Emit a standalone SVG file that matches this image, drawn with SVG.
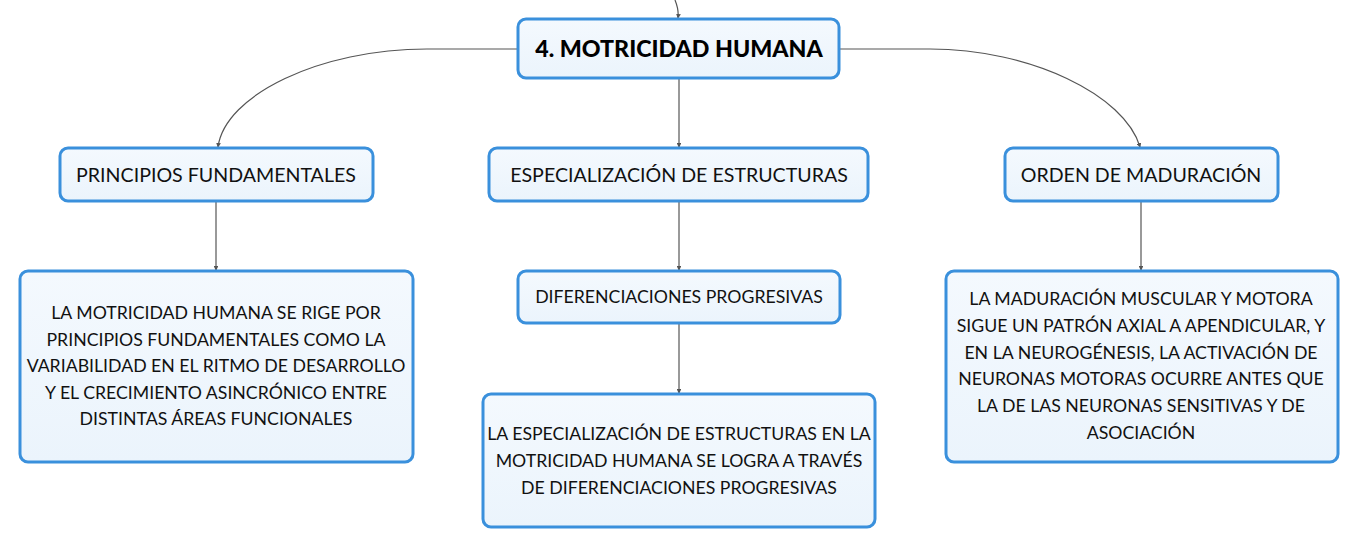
<svg xmlns="http://www.w3.org/2000/svg" width="1359" height="549" viewBox="0 0 1359 549">
<defs>
<linearGradient id="fillg" x1="0" y1="0" x2="0" y2="1">
<stop offset="0" stop-color="#f4f9fe"/>
<stop offset="1" stop-color="#ebf4fc"/>
</linearGradient>
<marker id="arr" viewBox="0 0 6 6" refX="5" refY="3" markerWidth="4" markerHeight="4" orient="auto">
<path d="M0,0 L6,3 L0,6 z" fill="#555"/>
</marker>
<style>
.box{fill:url(#fillg);stroke:#3a90dc;stroke-width:3}
.t{font-family:Lato,"Noto Sans","Liberation Sans",sans-serif;font-size:17.7px;fill:#111;text-anchor:middle}
.n{font-family:Lato,"Noto Sans","Liberation Sans",sans-serif;font-size:19.6px;fill:#111;text-anchor:middle}
.title{font-family:Lato,"Noto Sans","Liberation Sans",sans-serif;font-size:23.2px;font-weight:900;fill:#000;text-anchor:middle}
.c{fill:none;stroke:#555;stroke-width:1.2}
</style>
</defs>
<rect width="1359" height="549" fill="#fff"/>
<g id="connectors">
<path class="c" d="M675,0 Q679,10 678,18" marker-end="url(#arr)"/>
<path class="c" d="M518,49 L427,49 C320,49 225,95 218,147" marker-end="url(#arr)"/>
<path class="c" d="M840,49 L930,49 C1030,49 1125,95 1140,147" marker-end="url(#arr)"/>
<path class="c" d="M679,79 L679,147" marker-end="url(#arr)"/>
<path class="c" d="M216,202 L216,270" marker-end="url(#arr)"/>
<path class="c" d="M679,202 L679,270" marker-end="url(#arr)"/>
<path class="c" d="M1141,202 L1141,270" marker-end="url(#arr)"/>
<path class="c" d="M679,324 L679,393" marker-end="url(#arr)"/>
</g>
<g id="root">
<rect class="box" x="518" y="19" width="321" height="59" rx="8"/>
<text class="title" x="679" y="57">4. MOTRICIDAD HUMANA</text>
</g>
<g id="principios">
<rect class="box" x="60" y="148" width="313" height="53" rx="8"/>
<text class="n" x="216" y="182">PRINCIPIOS FUNDAMENTALES</text>
</g>
<g id="especializacion">
<rect class="box" x="489" y="148" width="379" height="53" rx="8"/>
<text class="n" x="679" y="182">ESPECIALIZACIÓN DE ESTRUCTURAS</text>
</g>
<g id="orden">
<rect class="box" x="1005" y="148" width="273" height="53" rx="8"/>
<text class="n" x="1141" y="182">ORDEN DE MADURACIÓN</text>
</g>
<g id="principios-desc">
<rect class="box" x="20" y="271" width="393" height="191" rx="8"/>
<text class="t" x="216" y="319">LA MOTRICIDAD HUMANA SE RIGE POR</text>
<text class="t" x="216" y="346">PRINCIPIOS FUNDAMENTALES COMO LA</text>
<text class="t" x="216" y="372">VARIABILIDAD EN EL RITMO DE DESARROLLO</text>
<text class="t" x="216" y="399">Y EL CRECIMIENTO ASINCRÓNICO ENTRE</text>
<text class="t" x="216" y="425">DISTINTAS ÁREAS FUNCIONALES</text>
</g>
<g id="diferenciaciones">
<rect class="box" x="518" y="271" width="322" height="52" rx="8"/>
<text class="t" x="679" y="303">DIFERENCIACIONES PROGRESIVAS</text>
</g>
<g id="especializacion-desc">
<rect class="box" x="483" y="394" width="392" height="133" rx="8"/>
<text class="t" x="679" y="440">LA ESPECIALIZACIÓN DE ESTRUCTURAS EN LA</text>
<text class="t" x="679" y="467">MOTRICIDAD HUMANA SE LOGRA A TRAVÉS</text>
<text class="t" x="679" y="494">DE DIFERENCIACIONES PROGRESIVAS</text>
</g>
<g id="orden-desc">
<rect class="box" x="946" y="271" width="392" height="191" rx="8"/>
<text class="t" x="1141" y="305">LA MADURACIÓN MUSCULAR Y MOTORA</text>
<text class="t" x="1141" y="332">SIGUE UN PATRÓN AXIAL A APENDICULAR, Y</text>
<text class="t" x="1141" y="359">EN LA NEUROGÉNESIS, LA ACTIVACIÓN DE</text>
<text class="t" x="1141" y="385">NEURONAS MOTORAS OCURRE ANTES QUE</text>
<text class="t" x="1141" y="412">LA DE LAS NEURONAS SENSITIVAS Y DE</text>
<text class="t" x="1141" y="439">ASOCIACIÓN</text>
</g>
</svg>
